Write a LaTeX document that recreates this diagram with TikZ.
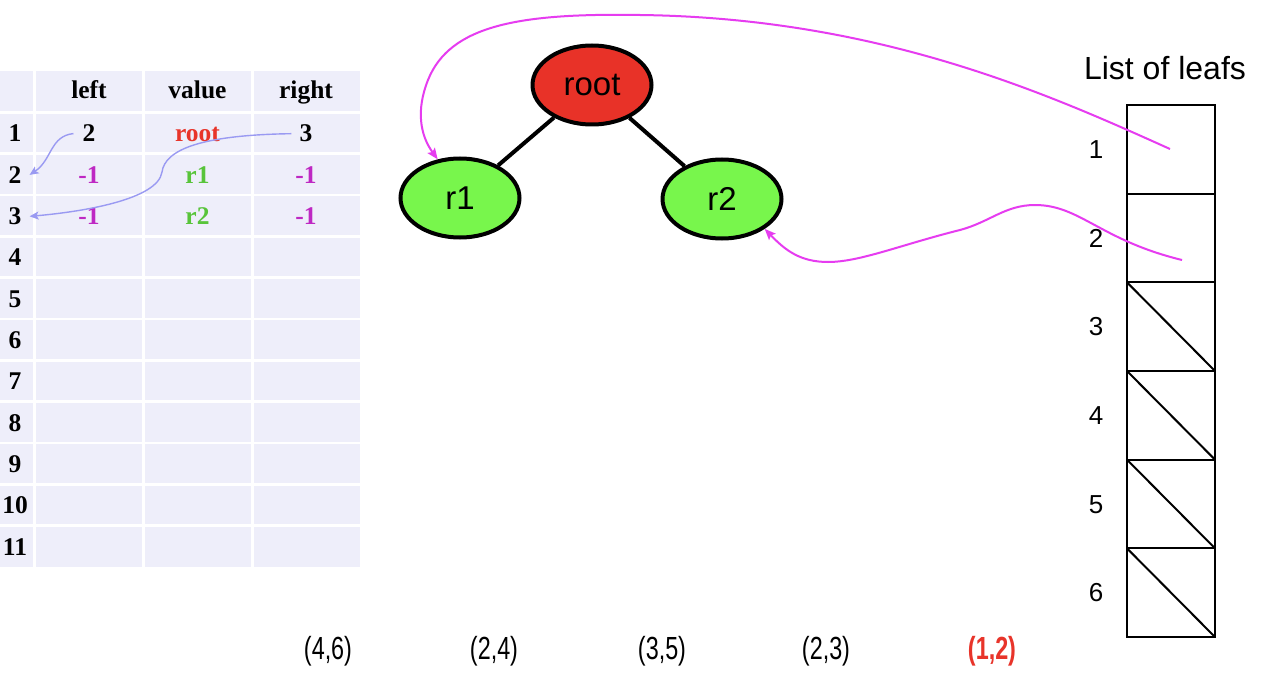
\documentclass[tikz,border=0pt]{standalone}
\usepackage{fontspec}
\setmainfont{Liberation Serif}
\newfontfamily\arial{Liberation Sans}
\newfontfamily\arialn[FakeStretch=0.73]{Liberation Sans}
\usetikzlibrary{arrows.meta,shapes.geometric}
\definecolor{cellbg}{RGB}{238,238,250}
\definecolor{txtred}{RGB}{232,52,42}
\definecolor{txtmag}{RGB}{190,40,195}
\definecolor{txtgreen}{RGB}{88,196,58}
\definecolor{ptrblue}{RGB}{154,154,242}
\definecolor{rootred}{RGB}{232,50,40}
\definecolor{leafgreen}{RGB}{120,246,76}
\definecolor{ptrmag}{RGB}{230,60,240}
\begin{document}
\begin{tikzpicture}[x=1pt,y=-1pt,
  tb/.style={anchor=base,inner sep=0pt,font=\bfseries\fontsize{25.5}{28}\selectfont},
  hd/.style={tb},
  rn/.style={tb},
  tn/.style={ellipse,draw=black,line width=4pt,minimum width=119pt,minimum height=79pt,
    inner sep=0pt,font=\arial\fontsize{33}{36}\selectfont},
  edge/.style={draw=black,line width=4pt},
  bluptr/.style={draw=ptrblue,line width=1.4pt,-{Stealth[length=9pt,width=8pt,inset=2pt]}},
  magptr/.style={draw=ptrmag,line width=2pt,-{Stealth[length=11pt,width=9pt,inset=2pt]}},
  leafcell/.style={draw=black,line width=2pt,minimum width=88pt,minimum height=88.67pt,
    inner sep=0pt,outer sep=0pt},
  lnum/.style={anchor=base,inner sep=0pt,font=\arial\fontsize{26}{30}\selectfont},
  pairlab/.style={anchor=base,inner sep=0pt,font=\arialn\fontsize{32}{36}\selectfont}]
\useasboundingbox (0,0) rectangle (1266,682);
\fill[white] (0,0) rectangle (1266,682);

% ---- array-based tree table ----
\fill[cellbg] (0,71) rectangle (360,567);
\foreach \xx in {34.5,143.5,252.5}
  \draw[white,line width=2.5pt] (\xx,71) -- (\xx,567);
\foreach \k in {1,...,11}
  \draw[white,line width=2.5pt] (0,{71+41.33*\k}) -- (360,{71+41.33*\k});

\node[hd] (hl) at (89,99) {left};
\node[hd] (hv) at (197.5,99) {value};
\node[hd] (hr) at (306,99) {right};
\foreach \r in {1,...,11}
  \node[rn] (n\r) at (15,{71+41.33*(\r+0.5)+9}) {\r};

\node[tb] (c1l) at (89,142) {2};
\node[tb,text=txtred] (c1v) at (197.5,142) {root};
\node[tb] (c1r) at (306,142) {3};
\node[tb,text=txtmag] (c2l) at (89,183.3) {-1};
\node[tb,text=txtgreen] (c2v) at (197.5,183.3) {r1};
\node[tb,text=txtmag] (c2r) at (306,183.3) {-1};
\node[tb,text=txtmag] (c3l) at (89,224.6) {-1};
\node[tb,text=txtgreen] (c3v) at (197.5,224.6) {r2};
\node[tb,text=txtmag] (c3r) at (306,224.6) {-1};

% child index pointers
\draw[bluptr] ([xshift=-9pt]c1l.west) .. controls (50,136) and (52,160) .. ([xshift=8pt]n2.east);
\draw[bluptr] ([xshift=-8pt]c1r.west) .. controls (200,135) and (165,150) .. (162,172)
  .. controls (158,200) and (80,212) .. ([xshift=8pt]n3.east);

% ---- tree ----
\node[tn,fill=rootred] (root) at (592,85) {root};
\node[tn,fill=leafgreen] (r1) at (460,198) {r1};
\node[tn,fill=leafgreen] (r2) at (722,199) {r2};
\draw[edge] (root) -- (r1);
\draw[edge] (root) -- (r2);

% ---- list of leafs ----
\node[anchor=base,inner sep=0pt,font=\arial\fontsize{32}{36}\selectfont] (title) at (1165,80) {List of leafs};
\foreach \k in {1,...,6} {
  \node[leafcell] (L\k) at (1171,{105+88.67*(\k-0.5)}) {};
  \node[lnum] (ln\k) at (1096,{105+88.67*(\k-0.5)+9.3}) {\k};
}
\foreach \k in {3,...,6}
  \draw[black,line width=2pt] (L\k.north west) -- (L\k.south east);

% leaf pointers
\coordinate (leafA) at (1170,149);
\coordinate (leafB) at (1182,260);
\draw[magptr] (leafA) .. controls (1050,95) and (880,18) .. (640,15)
  .. controls (520,13) and (450,25) .. (428,80)
  .. controls (416,110) and (420,135) .. (r1.120);
\draw[magptr] (leafB) .. controls (1100,240) and (1080,205) .. (1035,205)
  .. controls (1005,205) and (990,222) .. (960,230)
  .. controls (900,245) and (860,262) .. (828,262)
  .. controls (800,262) and (785,250) .. (r2.-35);

% ---- pairs ----
\node[pairlab] (p1) at (328,659) {(4,6)};
\node[pairlab] (p2) at (494,659) {(2,4)};
\node[pairlab] (p3) at (662,659) {(3,5)};
\node[pairlab] (p4) at (826,659) {(2,3)};
\node[pairlab,text=txtred,font=\arialn\bfseries\fontsize{32}{36}\selectfont] (p5) at (992,659) {(1,2)};
\end{tikzpicture}
\end{document}
